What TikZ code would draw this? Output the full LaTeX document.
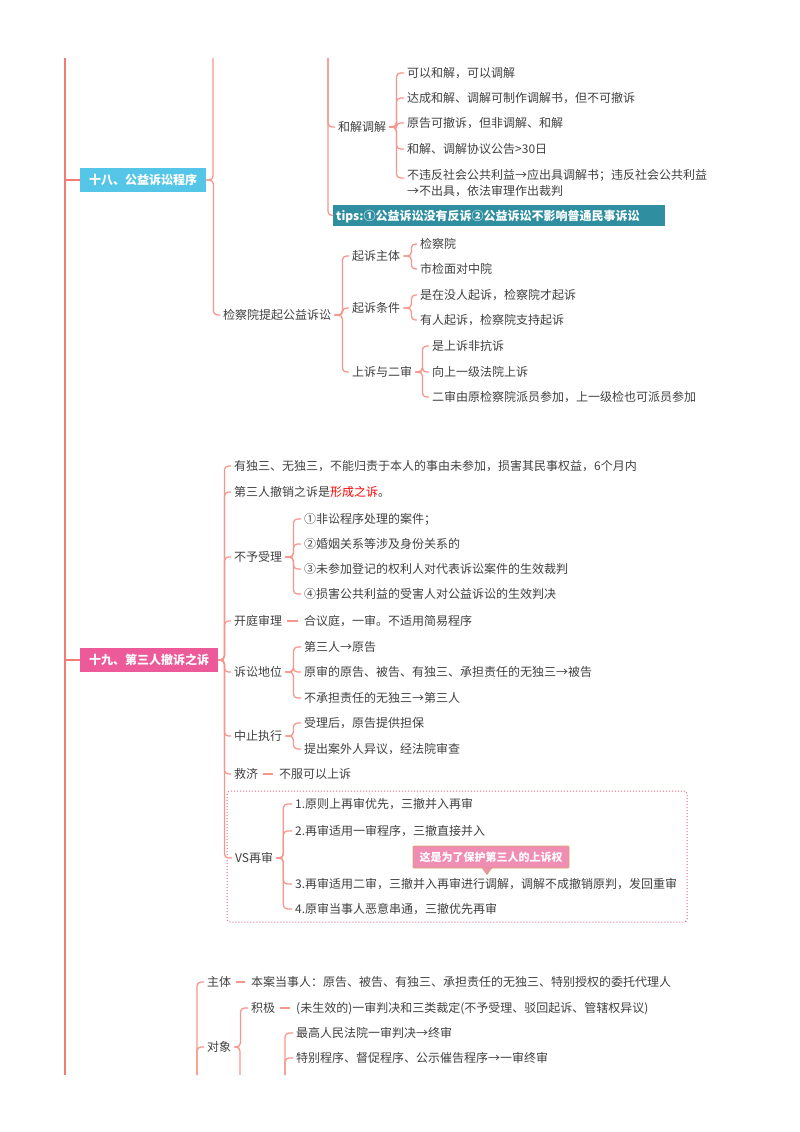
\documentclass[tikz,border=0pt]{standalone}
\usepackage{fontspec}
\setmainfont{Noto Sans CJK SC}
\usetikzlibrary{positioning}
\definecolor{trunkred}{HTML}{F47A72}
\definecolor{branchred}{HTML}{F7968C}
\definecolor{ink}{HTML}{404040}
\definecolor{skyblue}{HTML}{55C6E8}
\definecolor{tealtip}{HTML}{2F8FA1}
\definecolor{rosebox}{HTML}{EC5A99}
\definecolor{notepink}{HTML}{F08DB2}
\definecolor{notetan}{HTML}{D9A36E}
\definecolor{framepink}{HTML}{E2647F}
\tikzset{
  txt/.style={anchor=west,inner xsep=3pt,inner ysep=1pt,text=ink,font=\fontsize{12}{16}\selectfont,text height=10.5pt,text depth=1.5pt},
  topic/.style={anchor=west,text=white,font=\fontsize{12}{16}\selectfont\bfseries,minimum height=24pt,inner xsep=0pt,text height=10.5pt,text depth=1.5pt},
  tipbox/.style={anchor=west,fill=tealtip,text=white,font=\fontsize{12}{16}\selectfont\bfseries,minimum height=21pt,text width=326pt,align=left,inner xsep=3pt,inner ysep=0pt,text height=10.5pt,text depth=1.5pt},
  notebox/.style={fill=notepink,draw=notetan,line width=0.8pt,text=white,font=\fontsize{11}{14}\selectfont\bfseries,minimum width=156pt,minimum height=22pt,inner sep=0pt,rounded corners=1pt},
  trunk/.style={draw=trunkred,line width=2.6pt},
  br/.style={draw=branchred,line width=1.3pt,rounded corners=4pt},
  link/.style={br,shorten <=2pt,shorten >=3pt},
  frame/.style={draw=framepink,dotted,line width=1pt,rounded corners=3pt}
}
\begin{document}
\begin{tikzpicture}[x=1pt,y=-1pt]
\useasboundingbox (0,0) rectangle (800,1132);
% main line
\coordinate (trunktop) at (65,58);
\coordinate (trunkbot) at (65,1075);
\draw[trunk] (trunktop) -- (trunkbot);

% ---- 18
\node[topic,fill=skyblue,minimum width=126pt] (s18) at (80,180) {十八、公益诉讼程序};
\draw[trunk] (s18.west) -- (s18.west -| trunktop);
\coordinate (s18up) at (213,58);
\coordinate (hjup) at (328,58);
\node[txt] (hjtj) at (335,127) {和解调解};
\node[txt] (hj1) at (404,73) {可以和解，可以调解};
\node[txt] (hj2) at (404,98) {达成和解、调解可制作调解书，但不可撤诉};
\node[txt] (hj3) at (404,123) {原告可撤诉，但非调解、和解};
\node[txt] (hj4) at (404,149) {和解、调解协议公告>30日};
\node[txt,align=left] (hj5) at (404,191) {不违反社会公共利益→应出具调解书；违反社会公共利益\\→不出具，依法审理作出裁判};
\node[tipbox] (tips) at (333,215.5) {tips:①公益诉讼没有反诉②公益诉讼不影响普通民事诉讼};
\node[txt] (jcy) at (220,315) {检察院提起公益诉讼};
\node[txt] (qz) at (349,256) {起诉主体};
\node[txt] (qz1) at (417,244) {检察院};
\node[txt] (qz2) at (417,269) {市检面对中院};
\node[txt] (qt) at (349,308) {起诉条件};
\node[txt] (qt1) at (417,295) {是在没人起诉，检察院才起诉};
\node[txt] (qt2) at (417,320) {有人起诉，检察院支持起诉};
\node[txt] (ss) at (349,372) {上诉与二审};
\node[txt] (ss1) at (429,346) {是上诉非抗诉};
\node[txt] (ss2) at (429,372) {向上一级法院上诉};
\node[txt] (ss3) at (429,397) {二审由原检察院派员参加，上一级检也可派员参加};
% branches
\draw[br] (s18.east) -| (s18up);
\draw[br] (s18.east) -- ++(7,0) |- (jcy.west);
\draw[br] (hjup) |- (hjtj.west);
\draw[br] (hjup) |- (tips.west);
\foreach \c in {hj1,hj2,hj3,hj4}
  \draw[br] (hjtj.east) -- ++(7,0) |- (\c.west);
\draw[br] (hjtj.east) -- ++(7,0) |- ([yshift=13pt]hj5.west);
\foreach \c in {qz,qt,ss}
  \draw[br] (jcy.east) -- ++(8,0) |- (\c.west);
\foreach \c in {qz1,qz2}
  \draw[br] (qz.east) -- ++(8,0) |- (\c.west);
\foreach \c in {qt1,qt2}
  \draw[br] (qt.east) -- ++(8,0) |- (\c.west);
\foreach \c in {ss1,ss2,ss3}
  \draw[br] (ss.east) -- ++(7,0) |- (\c.west);

% ---- 19
\node[topic,fill=rosebox,minimum width=138pt] (s19) at (80,660) {十九、第三人撤诉之诉};
\draw[trunk] (s19.west) -- (s19.west -| trunktop);
\draw[frame] (227,791) rectangle (687,922);
\node[txt] (a1) at (231,466) {有独三、无独三，不能归责于本人的事由未参加，损害其民事权益，6个月内};
\node[txt] (a2) at (231,492) {第三人撤销之诉是\textcolor{red}{形成之诉}。};
\node[txt] (a3) at (231,557) {不予受理};
\node[txt] (a31) at (301,519) {①非讼程序处理的案件；};
\node[txt] (a32) at (301,544) {②婚姻关系等涉及身份关系的};
\node[txt] (a33) at (301,569) {③未参加登记的权利人对代表诉讼案件的生效裁判};
\node[txt] (a34) at (301,594) {④损害公共利益的受害人对公益诉讼的生效判决};
\node[txt] (a4) at (231,621) {开庭审理};
\node[txt] (a41) at (301,621) {合议庭，一审。不适用简易程序};
\node[txt] (a5) at (231,672) {诉讼地位};
\node[txt] (a51) at (301,647) {第三人→原告};
\node[txt] (a52) at (301,672) {原审的原告、被告、有独三、承担责任的无独三→被告};
\node[txt] (a53) at (301,698) {不承担责任的无独三→第三人};
\node[txt] (a6) at (231,736) {中止执行};
\node[txt] (a61) at (301,723) {受理后，原告提供担保};
\node[txt] (a62) at (301,749) {提出案外人异议，经法院审查};
\node[txt] (a7) at (231,774) {救济};
\node[txt] (a71) at (276,774) {不服可以上诉};
\node[txt] (a8) at (232,858) {VS再审};
\node[txt] (a81) at (292,804) {1.原则上再审优先，三撤并入再审};
\node[txt] (a82) at (292,831) {2.再审适用一审程序，三撤直接并入};
\node[txt] (a83) at (292,884) {3.再审适用二审，三撤并入再审进行调解，调解不成撤销原判，发回重审};
\node[txt] (a84) at (292,909) {4.原审当事人恶意串通，三撤优先再审};
\node[notebox] (note) at (491,857) {这是为了保护第三人的上诉权};
\draw[notetan,fill=notepink,line width=0.8pt] ([xshift=-9pt,yshift=0.8pt]note.south) -- ([xshift=-4pt,yshift=-6pt]note.south) -- ([xshift=1pt,yshift=0.8pt]note.south);
% branches
\foreach \c in {a1,a2,a3,a4,a5,a6,a7,a8}
  \draw[br] (s19.east) -- ++(6,0) |- (\c.west);
\foreach \c in {a31,a32,a33,a34}
  \draw[br] (a3.east) -- ++(8,0) |- (\c.west);
\draw[link] (a4.east) -- (a41.west);
\foreach \c in {a51,a52,a53}
  \draw[br] (a5.east) -- ++(8,0) |- (\c.west);
\foreach \c in {a61,a62}
  \draw[br] (a6.east) -- ++(8,0) |- (\c.west);
\draw[link] (a7.east) -- (a71.west);
\foreach \c in {a81,a82,a83,a84}
  \draw[br] (a8.east) -- ++(7,0) |- (\c.west);

% ---- bottom part
\coordinate (zdown) at (197,1075);
\coordinate (dxdown) at (240,1075);
\coordinate (xjdown) at (285,1075);
\node[txt] (zt) at (204,982) {主体};
\node[txt] (zt1) at (248,982) {本案当事人：原告、被告、有独三、承担责任的无独三、特别授权的委托代理人};
\node[txt] (dx) at (204,1047) {对象};
\node[txt] (jj) at (248,1008) {积极};
\node[txt] (jj1) at (293,1008) {(未生效的)一审判决和三类裁定(不予受理、驳回起诉、管辖权异议)};
\node[txt] (xj1) at (293,1033) {最高人民法院一审判决→终审};
\node[txt] (xj2) at (293,1058) {特别程序、督促程序、公示催告程序→一审终审};
\draw[br] (zdown) |- (zt.west);
\draw[br] (zdown) |- (dx.west);
\draw[link] (zt.east) -- (zt1.west);
\draw[br] (dx.east) -- ++(6,0) |- (jj.west);
\draw[br] (dx.east) -| (dxdown);
\draw[link] (jj.east) -- (jj1.west);
\draw[br] (xjdown) |- (xj1.west);
\draw[br] (xjdown) |- (xj2.west);
\end{tikzpicture}
\end{document}
